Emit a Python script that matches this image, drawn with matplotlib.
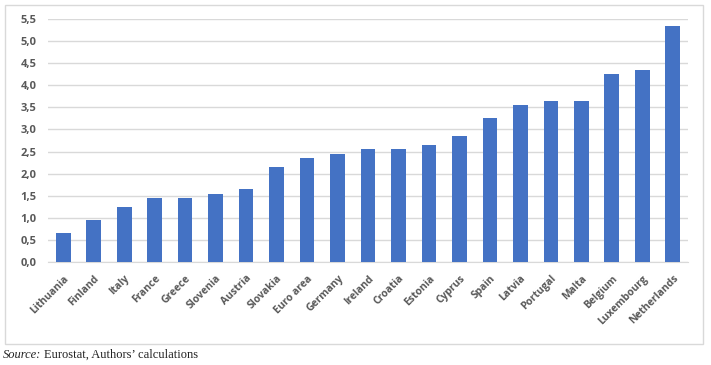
import matplotlib
matplotlib.use("Agg")
import matplotlib.pyplot as plt
from matplotlib.patches import Rectangle
from matplotlib.ticker import FuncFormatter, MultipleLocator

# Данные
countries = ["Lithuania", "Finland", "Italy", "France", "Greece", "Slovenia",
             "Austria", "Slovakia", "Euro area", "Germany", "Ireland", "Croatia",
             "Estonia", "Cyprus", "Spain", "Latvia", "Portugal", "Malta",
             "Belgium", "Luxembourg", "Netherlands"]
values = [0.65, 0.95, 1.25, 1.45, 1.45, 1.55, 1.65, 2.15, 2.35, 2.45, 2.55,
          2.55, 2.65, 2.85, 3.25, 3.55, 3.65, 3.65, 4.25, 4.35, 5.35]

BAR_COLOR = "#4472C4"
GRID_COLOR = "#D9D9D9"
TEXT_COLOR = "#595959"

fig = plt.figure(figsize=(7.11, 3.65), dpi=100)
ax = fig.add_axes([48 / 711, 1 - 262 / 365, (688 - 48) / 711, (262 - 19) / 365])

x = range(len(countries))
ax.bar(x, values, width=0.48, color=BAR_COLOR, zorder=3)

ax.set_xlim(-0.5, len(countries) - 0.5)
ax.set_ylim(0, 5.5)
ax.yaxis.set_major_locator(MultipleLocator(0.5))
ax.yaxis.set_major_formatter(FuncFormatter(lambda v, _: f"{v:.1f}".replace(".", ",")))
ax.grid(axis="y", color=GRID_COLOR, linewidth=1, zorder=0)

for s in ["top", "right", "left"]:
    ax.spines[s].set_visible(False)
ax.spines["bottom"].set_color(GRID_COLOR)
ax.tick_params(axis="both", length=0, colors=TEXT_COLOR)
ax.tick_params(axis="y", pad=8)
ax.tick_params(axis="x", pad=8)

ax.set_xticks(list(x))
ax.set_xticklabels(countries, rotation=45, ha="right", rotation_mode="anchor",
                   fontsize=7.5, fontweight="bold", family="Open Sans", color=TEXT_COLOR)
for lab in ax.get_yticklabels():
    lab.set_fontsize(8)
    lab.set_fontweight("bold")
    lab.set_family("Open Sans")

# Рамка вокруг графика
fig.patches.append(Rectangle((5 / 711, 1 - 344 / 365), 698 / 711, 339 / 365,
                             transform=fig.transFigure, fill=False,
                             edgecolor=GRID_COLOR, linewidth=1))

fig.text(3 / 711, 1 - 355 / 365, "Source:", style="italic", family="Liberation Serif",
         fontsize=9, va="center", color="#222222")
fig.text(44 / 711, 1 - 355 / 365, "Eurostat, Authors\u2019 calculations",
         family="Liberation Serif", fontsize=9, va="center", color="#222222")

fig.savefig("out.png", dpi=100)
